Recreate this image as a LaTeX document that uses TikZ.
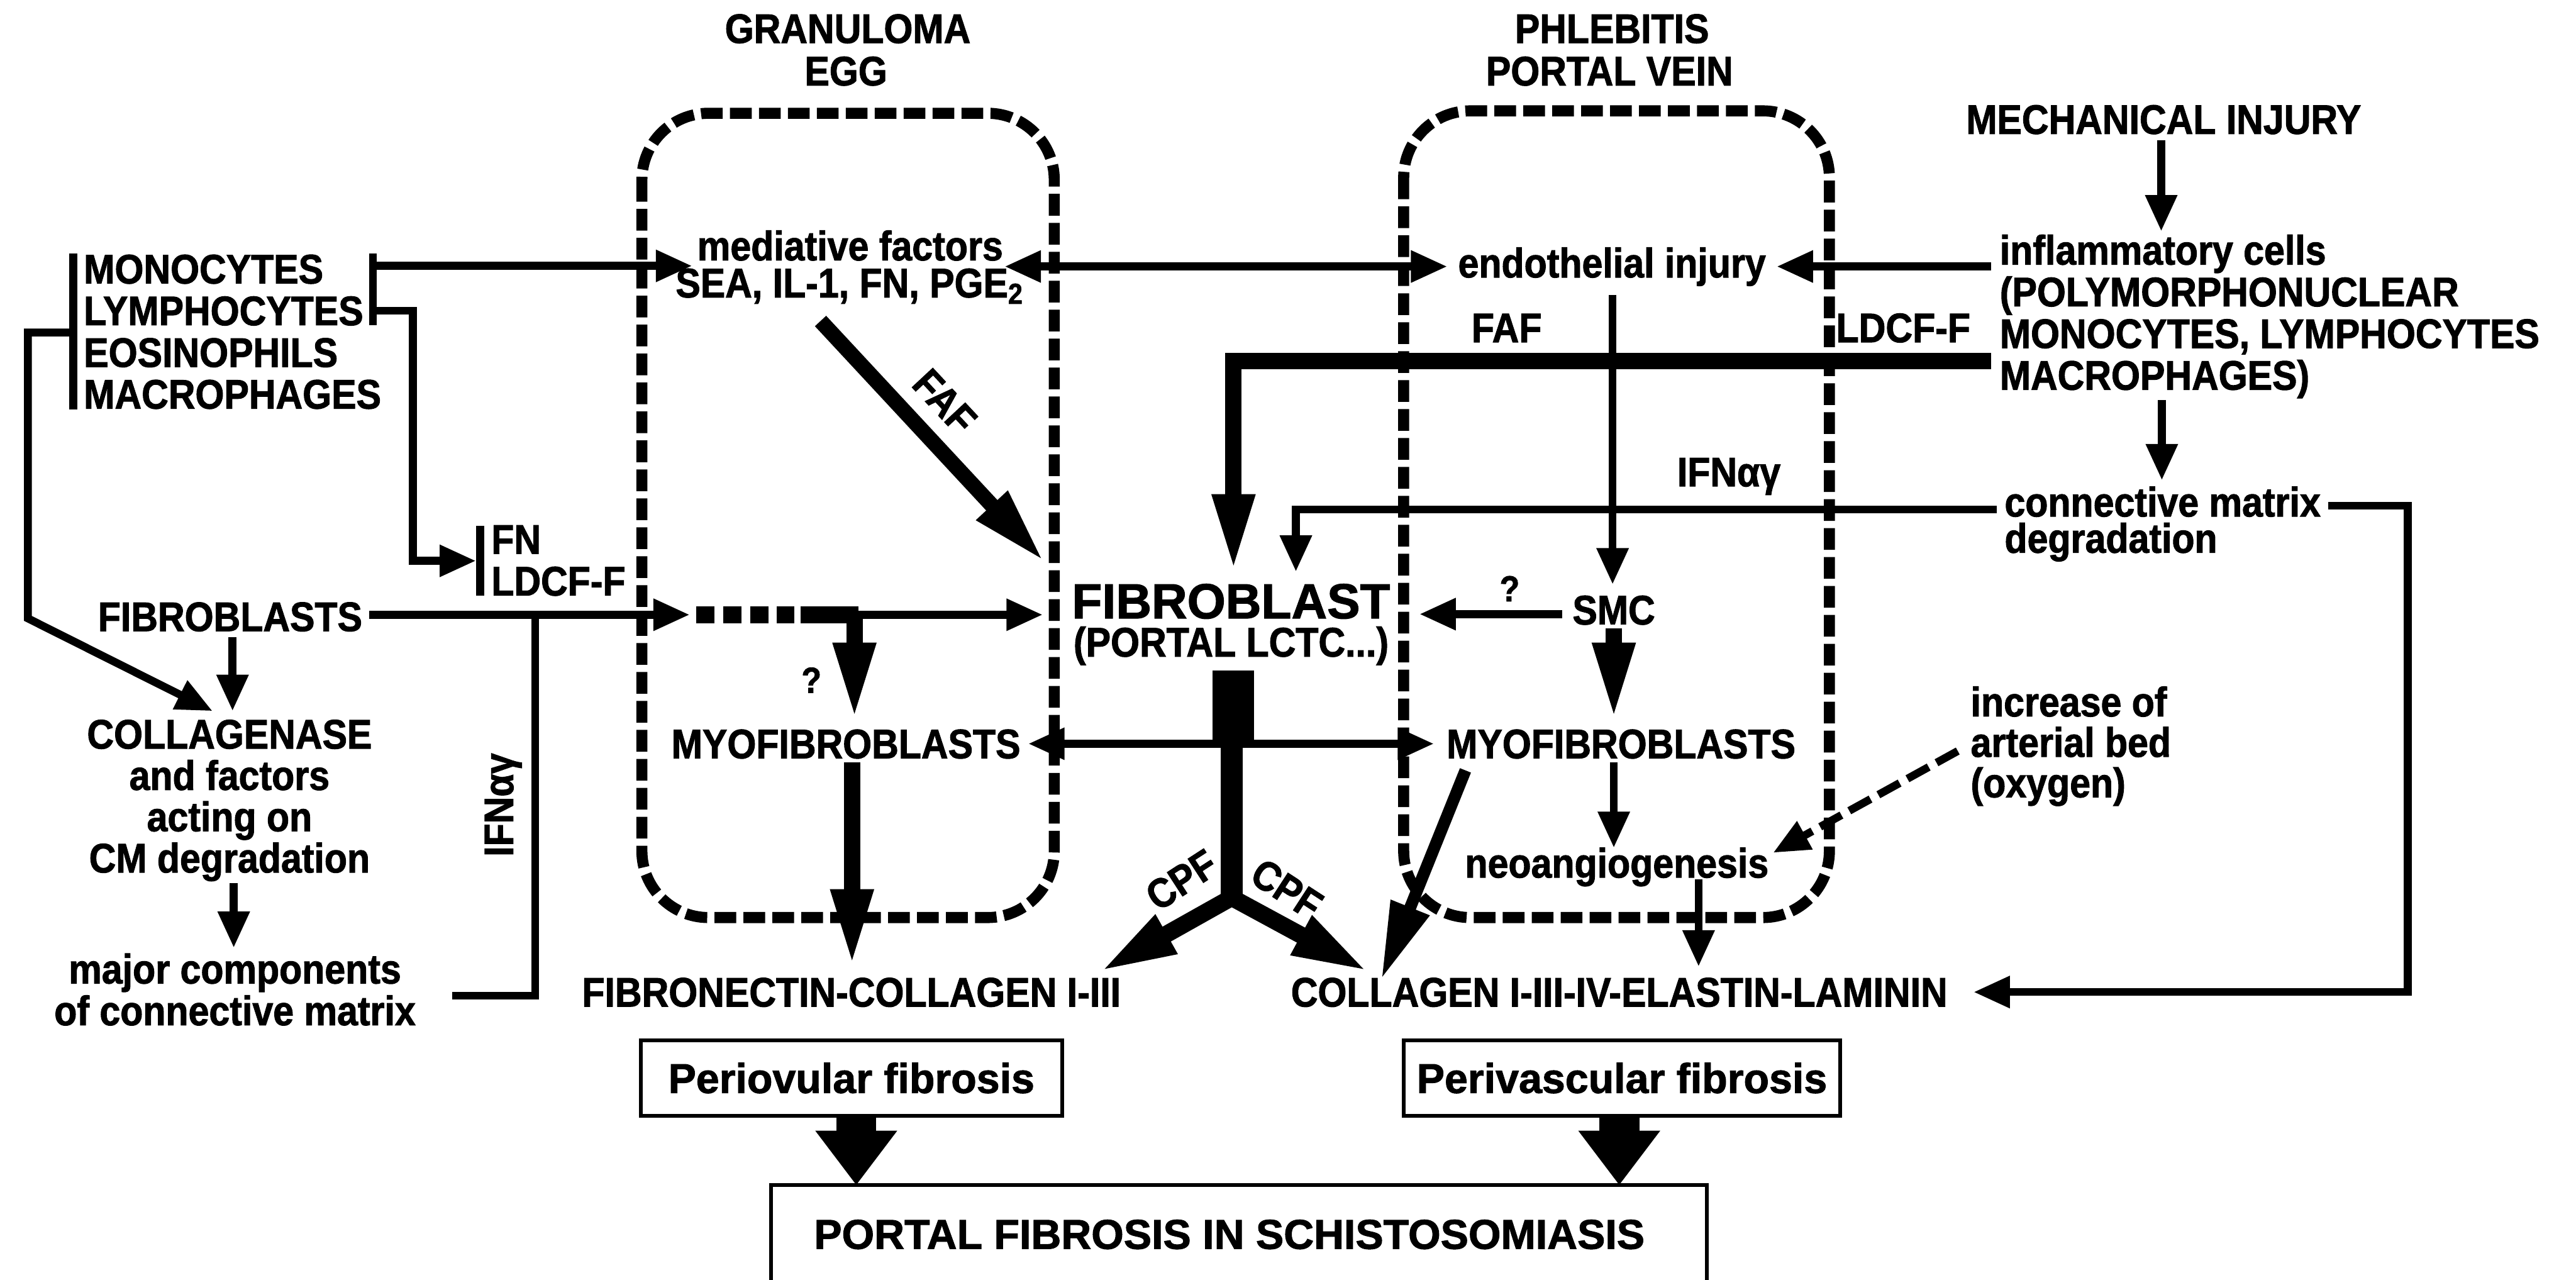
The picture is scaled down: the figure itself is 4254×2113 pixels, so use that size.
\documentclass[tikz,border=0pt]{standalone}
\usepackage{fontspec}
\setmainfont{Liberation Sans}[FakeStretch=0.9,BoldFeatures={FakeBold=1.5}]
\newfontfamily\breitfont{Liberation Sans}[BoldFeatures={FakeBold=1.5}]
\usepackage{tikz}
\usetikzlibrary{arrows.meta}
\usetikzlibrary{positioning}
\tikzset{
  Linie/.style={line width=1.85pt}, % duenne Leitung
  Pfeil/.style={Linie,-{Triangle[length=3mm,width=2.5mm]}}, % normaler Pfeil
  DPfeil/.style={Linie,{Triangle[length=3mm,width=2.5mm]}-{Triangle[length=3mm,width=2.5mm]}},
  LPfeil/.style={line width=#1,-{Triangle[length=6.4mm,width=3.2mm]}}, % langer Pfeil
  LPfeil/.default=3.84pt,
  GPfeil/.style={line width=9.4pt,-{Triangle[length=4.5mm,width=6.45mm]}}, % dicker Pfeil unten
  Zone/.style={line width=2.6pt,dash pattern=on 5.1pt off 1.7pt,rounded corners=5.5mm},
  Txt/.style={inner sep=0pt,font=\fontsize{9.7}{#1}\selectfont\bfseries},
  Txt/.default=9.8pt,
  Kasten/.style={draw,line width=0.9pt,inner sep=0pt,
    font=\breitfont\bfseries\fontsize{9.8}{10}\selectfont}
}
\begin{document}
\begin{tikzpicture}[x=0.05mm,y=-0.05mm]
\useasboundingbox (0,0) rectangle (4254,2113);

%Stuetzpunkte
\coordinate (kL1) at (121,419);
\coordinate (kL2) at (121,676);
\coordinate (kL3) at (121,549);
\coordinate (kR1) at (616,419);
\coordinate (kR2) at (616,537);
\coordinate (kR3) at (616,513);
\coordinate (kF1) at (793,868);
\coordinate (kF2) at (793,984);
\coordinate (medW) at (1143,439);
\coordinate (fnW) at (786,926);
\coordinate (lk) at (46,1021);
\coordinate (collA) at (351,1174);
\coordinate (fibsE) at (610,1015);
\coordinate (zoneW) at (1139,1015);
\coordinate (d1) at (1150,1015);
\coordinate (d2) at (1312,1015);
\coordinate (d3) at (1322,1015);
\coordinate (tj) at (1418,1015);
\coordinate (tjx) at (1411,1015);
\coordinate (fibW) at (1722,1015);
\coordinate (myoLN) at (1411,1189);
\coordinate (ifA) at (884,1015);
\coordinate (ifB) at (884,1644);
\coordinate (majE) at (747,1644);
\coordinate (fibsS) at (384,1052);
\coordinate (collN) at (384,1174);
\coordinate (collS) at (386,1458);
\coordinate (majN) at (386,1565);
\coordinate (faf1) at (1355,530);
\coordinate (faf2) at (1725,928);
\coordinate (medE) at (1659,440);
\coordinate (endoW) at (2390,440);
\coordinate (myoLE) at (1698,1228);
\coordinate (myoRW) at (2368,1228);
\coordinate (myoLS) at (1407,1259);
\coordinate (fibnN) at (1407,1596);
\coordinate (inflW2) at (3288,596);
\coordinate (fibN1) at (2037,944);
\coordinate (connW) at (3297,841);
\coordinate (fibN2) at (2140,944);
\coordinate (yT) at (2034,1215);
\coordinate (yB) at (2034,1482);
\coordinate (yL) at (1815,1605);
\coordinate (yR) at (2261,1605);
\coordinate (mechS) at (3569,232);
\coordinate (inflN) at (3569,382);
\coordinate (inflW) at (3288,440);
\coordinate (endoE) at (2934,440);
\coordinate (endoS) at (2663,487);
\coordinate (smcN) at (2663,965);
\coordinate (macS) at (3570,661);
\coordinate (connN) at (3570,793);
\coordinate (connE) at (3845,835);
\coordinate (colE) at (3259,1638);
\coordinate (smcW) at (2580,1014);
\coordinate (fibE) at (2344,1014);
\coordinate (smcS) at (2665,1038);
\coordinate (myoRN) at (2665,1189);
\coordinate (myoRS) at (2665,1259);
\coordinate (neoN) at (2665,1400);
\coordinate (neoS) at (2805,1452);
\coordinate (colN) at (2805,1596);
\coordinate (myoRD) at (2420,1272);
\coordinate (colNW) at (2281,1617);
\coordinate (incrW) at (3233,1240);
\coordinate (neoE) at (2928,1408);
\coordinate (pA1) at (1414,1842);
\coordinate (pA2) at (1414,1957);
\coordinate (pB1) at (2674,1842);
\coordinate (pB2) at (2674,1957);
\coordinate (pfLU) at (1273,2113);
\coordinate (pfRO) at (2819,1957);
\coordinate (pfRU) at (2819,2113);

%Bereiche
\draw[Zone] (1060,187) rectangle (1741,1515);
\draw[Zone] (2318,183) rectangle (3021,1515);

%Texte
\node[Txt,anchor=base] (Gran) at (1400,71) {GRANULOMA};
\node[Txt,anchor=base] (Egg) at (1397,141) {EGG};
\node[Txt,anchor=base] (Phleb) at (2662,71) {PHLEBITIS};
\node[Txt,anchor=base] (PVene) at (2658,141) {PORTAL VEIN};
\node[Txt,anchor=base] (Mech) at (3573,221) {MECHANICAL INJURY};
\node[Txt,anchor=north west,align=left] (Mono) at (137,419)
  {MONOCYTES\\LYMPHOCYTES\\EOSINOPHILS\\MACROPHAGES};
\node[Txt=8.7pt,anchor=north,align=center] (Med) at (1404,379)
  {mediative factors\\SEA, IL-1, FN, PGE\textsubscript{2}};
\node[Txt,anchor=base] (Endo) at (2662,458) {endothelial injury};
\node[Txt,anchor=north west,align=left] (Infl) at (3301,386)
  {inflammatory cells\\(POLYMORPHONUCLEAR\\MONOCYTES, LYMPHOCYTES\\MACROPHAGES)};
\node[Txt,anchor=base] (FAFh) at (2488,565) {FAF};
\node[Txt,anchor=base] (LDCF) at (3143,565) {LDCF-F};
\node[Txt,rotate=-47] (FAFd) at (1560,663) {FAF};
\node[Txt,anchor=base] (IFNh) at (2855,803) {IFNαγ};
\node[Txt=8.5pt,anchor=north west,align=left] (Conn) at (3309,802)
  {connective matrix\\degradation};
\node[Txt,anchor=north west,align=left] (FN) at (810,866) {FN\\LDCF-F};
\node[Txt,anchor=base] (Fibs) at (380,1042) {FIBROBLASTS};
\node[Txt,anchor=base,font=\breitfont\bfseries\fontsize{11.6}{12}\selectfont]
  (Fib) at (2033,1021) {FIBROBLAST};
\node[Txt,anchor=base] (Lctc) at (2033,1084) {(PORTAL LCTC...)};
\node[Txt,font=\fontsize{8.5}{9}\selectfont\bfseries] (FrL) at (1340,1123) {?};
\node[Txt,font=\fontsize{8.5}{9}\selectfont\bfseries] (FrR) at (2493,972) {?};
\node[Txt,anchor=base] (Smc) at (2665,1031) {SMC};
\node[Txt,anchor=base] (MyoL) at (1397,1252) {MYOFIBROBLASTS};
\node[Txt,anchor=base] (MyoR) at (2677,1252) {MYOFIBROBLASTS};
\node[Txt=9.7pt,anchor=north,align=center] (Coll) at (379,1187)
  {COLLAGENASE\\and factors\\acting on\\CM degradation};
\node[Txt,anchor=north,align=center] (Major) at (388,1573)
  {major components\\of connective matrix};
\node[Txt,rotate=90] (IFNv) at (831,1329) {IFNαγ};
\node[Txt,anchor=base] (Neo) at (2670,1449) {neoangiogenesis};
\node[Txt=9.5pt,anchor=north west,align=left] (Incr) at (3253,1132)
  {increase of\\arterial bed\\(oxygen)};
\node[Txt,anchor=base] (FibN) at (1406,1662) {FIBRONECTIN-COLLAGEN I-III};
\node[Txt,anchor=base] (CollE) at (2674,1662) {COLLAGEN I-III-IV-ELASTIN-LAMININ};
\node[Txt,rotate=33] (CpfL) at (1951,1453) {CPF};
\node[Txt,rotate=-33] (CpfR) at (2125,1468) {CPF};
\node[Kasten,minimum width=3.48cm,minimum height=0.62cm] (Peri) at (1406,1780) {Periovular fibrosis};
\node[Kasten,minimum width=3.605cm,minimum height=0.62cm] (Periv) at (2678.5,1780) {Perivascular fibrosis};
\node[Txt,anchor=base,font=\breitfont\bfseries\fontsize{9.8}{10}\selectfont]
  (Portal) at (2030,2062) {PORTAL FIBROSIS IN SCHISTOSOMIASIS};

%Klammern
\draw[Linie] (kL1) -- (kL2);
\draw[Linie] (kR1) -- (kR2);
\draw[Linie] (kF1) -- (kF2);

%Pfeile links
\draw[Pfeil] (kR1 |- medW) -- (medW);
\draw[Pfeil] (kR3) -- ++(66,0) |- (fnW);
\draw[Pfeil] (kL3) -| (lk) -- (collA);
\draw[Pfeil] (fibsE) -- (zoneW);
\draw[line width=4pt,dash pattern=on 4.3pt off 2pt] (d1) -- (d2);
\draw[line width=4pt] (d3) -- (tj);
\draw[Pfeil] (tj) -- (fibW);
\draw[LPfeil] (tjx) -- (myoLN);
\draw[Linie] (ifA) -- (ifB) -- (majE);
\draw[Pfeil] (fibsS) -- (collN);
\draw[Pfeil] (collS) -- (majN);

%Granulom
\draw[LPfeil=3.6pt] (faf1) -- (faf2);
\draw[DPfeil] (medE) -- (endoW);
\draw[DPfeil] (myoLE) -- (myoRW);
\draw[LPfeil] (myoLS) -- (fibnN);

%Mitte
\draw[LPfeil] (inflW2) -| (fibN1);
\draw[Pfeil] (connW) -| (fibN2);
\fill (2002,1107) rectangle (2071,1221);
\draw[line width=5.3pt] (yT) -- (yB);
\draw[line width=4pt,{Triangle[length=6.4mm,width=3.3mm]}-{Triangle[length=6.4mm,width=3.3mm]}]
  (yL) -- (yB) -- (yR);

%Phlebitis
\draw[Pfeil] (mechS) -- (inflN);
\draw[Pfeil] (inflW) -- (endoE);
\draw[Pfeil] (endoS) -- (smcN);
\draw[Pfeil] (macS) -- (connN);
\draw[Pfeil] (connE) -- ++(131,0) |- (colE);
\draw[Pfeil] (smcW) -- (fibE);
\draw[LPfeil] (smcS) -- (myoRN);
\draw[Pfeil] (myoRS) -- (neoN);
\draw[Pfeil] (neoS) -- (colN);
\draw[LPfeil=2.8pt] (myoRD) -- (colNW);
\draw[Pfeil,dash pattern=on 5.7pt off 2.1pt] (incrW) -- (neoE);

%Fibrose
\draw[GPfeil] (pA1) -- (pA2);
\draw[GPfeil] (pB1) -- (pB2);
\draw[line width=0.9pt] (pfLU) |- (pfRO) -- (pfRU);

\end{tikzpicture}
\end{document}
